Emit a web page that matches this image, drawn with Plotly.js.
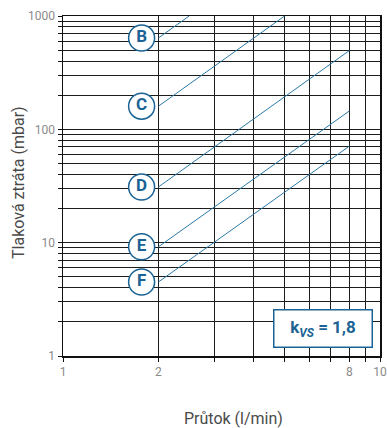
<!DOCTYPE html>
<html>
<head>
<meta charset="utf-8">
<script src="https://cdn.plot.ly/plotly-3.0.1.min.js"></script>
<style>
  html, body { margin: 0; padding: 0; background: #fff; }
  #chart { width: 387px; height: 428px; }
</style>
</head>
<body>
<div id="chart"></div>
<script>
/* =========================
   DATA
========================= */
const lineNames = ["B", "C", "D", "E", "F"];
const flowStart = [2, 2, 2, 2, 2];
const flowEnd = [2.5, 5, 8, 8, 8];
const dpStart = [640, 160, 31, 9.2, 4.5];
const dpEnd = [1000, 1000, 495, 145, 71];
const labelFlow = 1.77;

const xTickVals = [1, 2, 8, 10];
const xMinorVals = [3, 4, 5, 6, 7, 9];
const yTickVals = [1, 10, 100, 1000];
const yMinorVals = [2, 3, 4, 5, 6, 7, 8, 9, 20, 30, 40, 50, 60, 70, 80, 90,
  200, 300, 400, 500, 600, 700, 800, 900];

const kvsText = "k<sub><i>VS</i></sub> = 1,8";

/* =========================
   STYLE
========================= */
const blue = "#2a7aa6";
const labelBlue = "#1a6394";
const gridColor = "#1c1c1c";
const fontFamily = "Roboto, 'Noto Sans', sans-serif";

/* =========================
   TRACES
========================= */
const traces = lineNames.map((name, i) => ({
  x: [flowStart[i], flowEnd[i]],
  y: [dpStart[i], dpEnd[i]],
  type: "scatter",
  mode: "lines",
  line: { color: blue, width: 1 },
  hoverinfo: "skip",
  name: name
}));

traces.push({
  x: lineNames.map(() => labelFlow),
  y: dpStart,
  text: lineNames,
  type: "scatter",
  mode: "markers+text",
  textposition: "middle center",
  textfont: { family: fontFamily, size: 17, color: labelBlue, weight: 700 },
  marker: { symbol: "circle", size: 26, color: "#ffffff", line: { color: labelBlue, width: 1.5 } },
  cliponaxis: false,
  hoverinfo: "skip",
  name: "labels"
});

const axisCommon = {
  type: "log",
  showgrid: true,
  gridcolor: gridColor,
  gridwidth: 1,
  showline: true,
  linecolor: "#111",
  linewidth: 1.5,
  mirror: true,
  ticks: "outside",
  ticklen: 4,
  tickcolor: "#111",
  tickmode: "array",
  tickfont: { family: fontFamily, size: 12, color: "#8a8a8a" },
  zeroline: false,
  fixedrange: true
};

const minorCommon = {
  tickmode: "array",
  ticks: "outside",
  ticklen: 4,
  tickcolor: "#111",
  showgrid: true,
  gridcolor: gridColor,
  gridwidth: 1
};

const layout = {
  width: 387,
  height: 428,
  paper_bgcolor: "#ffffff",
  plot_bgcolor: "#ffffff",
  showlegend: false,
  margin: { t: 16, r: 7, b: 72, l: 63 },
  xaxis: {
    ...axisCommon,
    range: [0, 1],
    tickvals: xTickVals,
    ticktext: xTickVals.map(String),
    minor: { ...minorCommon, tickvals: xMinorVals }
  },
  yaxis: {
    ...axisCommon,
    range: [0, 3],
    tickvals: yTickVals,
    ticktext: yTickVals.map(String),
    minor: { ...minorCommon, tickvals: yMinorVals }
  },
  annotations: [
    {
      xref: "paper", yref: "paper",
      x: 0.82, y: 0.082,
      text: kvsText,
      showarrow: false,
      font: { family: fontFamily, size: 17, color: labelBlue, weight: 700 },
      bgcolor: "#ffffff",
      bordercolor: labelBlue,
      borderwidth: 1.5,
      borderpad: 2,
      width: 93,
      height: 32,
      xanchor: "center", yanchor: "middle"
    },
    {
      xref: "paper", yref: "paper",
      x: (233 - 63) / 317, y: -(418 - 356) / 340,
      text: "Průtok (l/min)",
      showarrow: false,
      font: { family: fontFamily, size: 16, color: "#4a4a4a" },
      xanchor: "center", yanchor: "middle"
    },
    {
      xref: "paper", yref: "paper",
      x: -(63 - 18) / 317, y: (356 - 183) / 340,
      text: "Tlaková ztráta (mbar)",
      textangle: -90,
      showarrow: false,
      font: { family: fontFamily, size: 16, color: "#4a4a4a" },
      xanchor: "center", yanchor: "middle"
    }
  ]
};

Plotly.newPlot("chart", traces, layout, { displayModeBar: false, staticPlot: true });
</script>
</body>
</html>
